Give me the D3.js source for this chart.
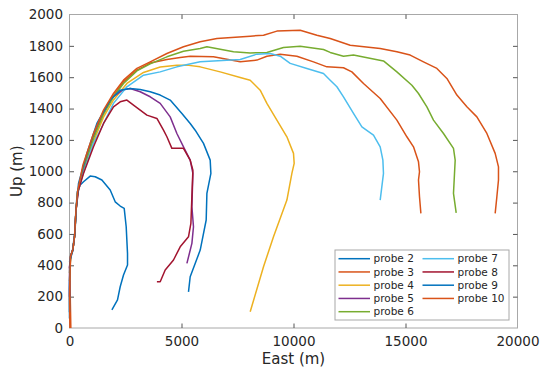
<!DOCTYPE html>
<html>
<head>
<meta charset="utf-8">
<script src="https://cdn.jsdelivr.net/npm/d3@7"></script>
<style>
  body { margin: 0; background: #fff; }
  svg { display: block; font-family: "DejaVu Sans", sans-serif; }
</style>
</head>
<body>
<svg id="chart" width="541" height="372"></svg>
<script>
// ---- data (East m, Up m) ----
const probeNames = ["probe 2","probe 3","probe 4","probe 5","probe 6","probe 7","probe 8","probe 9","probe 10"];
const probeColors = ["#0072BD","#D95319","#EDB120","#7E2F8E","#77AC30","#4DBEEE","#A2142F","#0072BD","#D95319"];
const xTicks = [0, 5000, 10000, 15000, 20000];
const yTicks = [0, 200, 400, 600, 800, 1000, 1200, 1400, 1600, 1800, 2000];

const probe2 = [[0,60],[0,250],[40,450],[130,490],[230,600],[290,760],[350,870],[478,912],[625,933],[924,969],[1147,965],[1446,944],[1817,880],[2040,805],[2263,778],[2442,763],[2531,646],[2590,476],[2590,402],[2411,338],[2263,263],[2143,179],[1893,115]];
const probe3 = [[60,0],[40,150],[20,320],[50,460],[150,500],[230,590],[290,750],[360,860],[600,1020],[1071,1220],[1518,1375],[1964,1480],[2411,1570],[3009,1645],[3603,1690],[4348,1713],[4942,1726],[5388,1734],[6428,1730],[7620,1698],[8366,1709],[8812,1734],[9406,1747],[10151,1734],[10892,1698],[11491,1666],[12231,1660],[12606,1634],[13125,1560],[13870,1464],[14615,1326],[15061,1220],[15357,1156],[15580,1060],[15625,997],[15580,944],[15625,837],[15687,731]];
const probe4 = [[0,300],[50,460],[150,500],[230,590],[290,750],[360,860],[600,990],[1071,1190],[1518,1345],[1964,1455],[2562,1560],[3303,1630],[4049,1665],[4794,1677],[5241,1677],[5833,1666],[6727,1634],[7620,1598],[8067,1581],[8513,1517],[8812,1433],[9258,1326],[9705,1220],[10000,1114],[10030,1050],[9928,986],[9705,816],[9107,582],[8661,391],[8067,104]];
const probe5 = [[0,200],[0,390],[50,460],[150,500],[230,590],[290,750],[380,870],[500,940],[900,1150],[1350,1330],[1900,1470],[2400,1520],[2710,1528],[3156,1507],[3603,1475],[4049,1433],[4495,1347],[4794,1241],[5089,1156],[5388,1071],[5508,986],[5464,773],[5535,646],[5464,540],[5241,412]];
const probe6 = [[0,350],[50,460],[150,500],[230,590],[290,750],[360,860],[600,1010],[1071,1210],[1518,1365],[1964,1475],[2411,1560],[3009,1640],[3603,1685],[4348,1730],[5089,1765],[5833,1783],[6134,1794],[7321,1762],[8067,1755],[8812,1758],[9553,1790],[10299,1798],[11339,1777],[11638,1758],[12231,1734],[12678,1741],[14017,1704],[14615,1634],[15285,1549],[15580,1496],[15955,1411],[16249,1326],[16696,1241],[17142,1146],[17218,1071],[17173,944],[17142,859],[17263,735]];
const probe7 = [[0,420],[50,460],[150,500],[230,590],[290,750],[360,860],[600,980],[1071,1180],[1370,1260],[1964,1433],[2562,1539],[3303,1613],[4049,1634],[4794,1666],[5833,1698],[6428,1704],[7620,1713],[8366,1747],[8959,1751],[9406,1734],[9852,1688],[10597,1656],[11339,1624],[11638,1581],[11937,1539],[12231,1475],[12678,1369],[13053,1283],[13571,1231],[13870,1156],[13990,1071],[14017,986],[13870,816]];
const probe8 = [[0,380],[50,460],[150,500],[230,590],[290,750],[400,880],[625,986],[1071,1156],[1518,1305],[1964,1411],[2263,1443],[2562,1454],[2857,1422],[3455,1358],[3902,1337],[4196,1262],[4348,1220],[4571,1146],[4794,1146],[5089,1146],[5388,1071],[5508,1007],[5464,837],[5419,667],[5312,582],[4942,518],[4643,434],[4272,370],[4049,295],[3902,295]];
const probe9 = [[0,100],[0,300],[40,440],[140,490],[240,600],[300,760],[402,922],[777,1114],[1223,1305],[1817,1454],[2263,1517],[2710,1528],[3156,1522],[3603,1507],[4049,1486],[4495,1454],[5018,1369],[5388,1305],[5611,1262],[5982,1178],[6281,1071],[6312,986],[6134,859],[6102,689],[5835,497],[5388,327],[5312,231]];
const probe10 = [[20,0],[0,200],[40,450],[150,500],[230,590],[290,750],[360,870],[600,1040],[1071,1241],[1518,1390],[1964,1496],[2411,1581],[3009,1656],[3603,1698],[4348,1751],[5089,1794],[5833,1826],[6580,1847],[8067,1862],[8661,1868],[9258,1894],[10299,1900],[11044,1868],[11638,1847],[12531,1804],[13870,1783],[14615,1762],[15209,1741],[15803,1698],[16401,1656],[16847,1592],[17294,1486],[17740,1411],[18186,1347],[18633,1241],[19003,1114],[19151,1028],[19151,944],[19079,837],[19003,731]];
const probes = [probe2, probe3, probe4, probe5, probe6, probe7, probe8, probe9, probe10];

// ---- layout ----
const L = 69.5, R = 517.5, T = 14.5, B = 328;
const svg = d3.select("#chart");
const x = d3.scaleLinear().domain([0, 20000]).range([L, R]);
const y = d3.scaleLinear().domain([0, 2000]).range([B, T]);
const textColor = "#262626";
const tickColor = "#555";
const boxColor = "#a8a8a8";
const fs = 13.5;

// box
svg.append("rect").attr("x", L).attr("y", T).attr("width", R - L).attr("height", B - T)
  .attr("fill", "none").attr("stroke", boxColor).attr("stroke-width", 1);

function styleAxis(g, labels) {
  g.select(".domain").remove();
  g.selectAll(".tick line").attr("stroke", tickColor);
  g.selectAll(".tick text").attr("fill", textColor).style("font-size", fs + "px")
    .style("font-family", "DejaVu Sans, sans-serif");
  if (!labels) g.selectAll(".tick text").remove();
}

svg.append("g").attr("transform", `translate(0,${B})`)
  .call(d3.axisBottom(x).tickValues(xTicks).tickFormat(d3.format("d")).tickSizeInner(-4.5).tickSizeOuter(0).tickPadding(8))
  .call(g => styleAxis(g, true));
svg.append("g").attr("transform", `translate(0,${T})`)
  .call(d3.axisTop(x).tickValues(xTicks).tickSizeInner(-4.5).tickSizeOuter(0))
  .call(g => styleAxis(g, false));
svg.append("g").attr("transform", `translate(${L},0)`)
  .call(d3.axisLeft(y).tickValues(yTicks).tickFormat(d3.format("d")).tickSizeInner(-4.5).tickSizeOuter(0).tickPadding(6.5))
  .call(g => styleAxis(g, true));
svg.append("g").attr("transform", `translate(${R},0)`)
  .call(d3.axisRight(y).tickValues(yTicks).tickSizeInner(-4.5).tickSizeOuter(0))
  .call(g => styleAxis(g, false));

// remove ticks coinciding with box corners
svg.selectAll(".tick").filter(d => d === 0 || d === 20000 || d === 2000).select("line").remove();

// axis labels
svg.append("text").attr("x", (L + R) / 2).attr("y", 364).attr("text-anchor", "middle")
  .attr("fill", textColor).style("font-size", "15px").text("East (m)");
svg.append("text").attr("transform", `translate(22,${(T + B) / 2}) rotate(-90)`).attr("text-anchor", "middle")
  .attr("fill", textColor).style("font-size", "15px").text("Up (m)");

// lines
const line = d3.line().x(d => x(d[0])).y(d => y(d[1]));
const plot = svg.append("g");
probes.forEach((p, i) => {
  plot.append("path").datum(p).attr("d", line).attr("fill", "none")
    .attr("stroke", probeColors[i]).attr("stroke-width", 1.5).attr("stroke-linejoin", "round");
});

// legend
const lg = svg.append("g");
lg.append("rect").attr("x", 335).attr("y", 250).attr("width", 174).attr("height", 70)
  .attr("fill", "#fff").attr("stroke", boxColor).attr("stroke-width", 1);
probeNames.forEach((name, i) => {
  const col = i < 5 ? 0 : 1;
  const row = i < 5 ? i : i - 5;
  const x0 = col === 0 ? 338.5 : 422.5;
  const yy = 258.7 + row * 13.25;
  lg.append("line").attr("x1", x0).attr("x2", x0 + 31.5).attr("y1", yy).attr("y2", yy)
    .attr("stroke", probeColors[i]).attr("stroke-width", 1.5);
  lg.append("text").attr("x", x0 + 35).attr("y", yy).attr("dy", "0.35em")
    .attr("fill", textColor).style("font-size", "10.5px").text(name);
});
</script>
</body>
</html>
